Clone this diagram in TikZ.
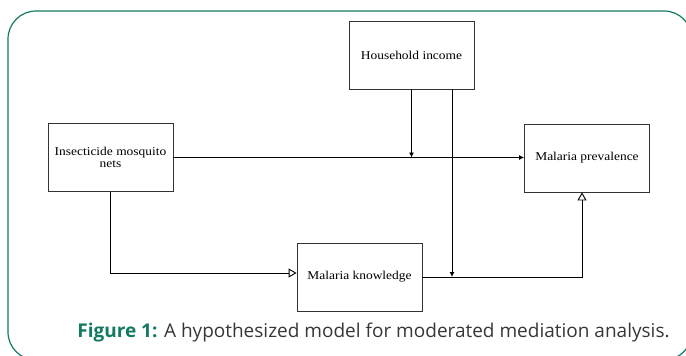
\documentclass[tikz,border=0pt]{standalone}
\usepackage{fontspec}
\setmainfont{Liberation Serif}[FakeStretch=1.12]
\newfontfamily\capfont{Open Sans}
\usetikzlibrary{arrows.meta}
\definecolor{frameteal}{RGB}{18,122,98}
\definecolor{capgray}{RGB}{55,55,55}

\begin{document}
\begin{tikzpicture}[x=1pt,y=1pt,node distance=100pt]
\tikzstyle{box} = [rectangle, minimum width=125pt, minimum height=68pt, align=center, draw=black!80, line width=0.8pt, font=\fontsize{12}{12}\selectfont]
\tikzstyle{caption} = [font=\capfont\fontsize{19}{21}\selectfont, text=capgray]
\tikzstyle{arrow} = [line width=0.9pt,-{Latex[length=5pt,width=5pt]}]
\tikzstyle{openarrow} = [line width=0.9pt,-{Triangle[open,length=8pt,width=9pt]}]

\useasboundingbox (0,0) rectangle (686,-356);
\draw[frameteal, line width=1.2pt, rounded corners=28pt] (8,-11) rectangle (692,-360);

%nodes
\node (nets) [box] at (110.5,-157.5) {Insecticide mosquito\\nets};
\node (income) [box, right of=nets, xshift=201pt, yshift=102.5pt] {Household income};
\node (prev) [box, right of=nets, xshift=376.5pt, yshift=-0.5pt] {Malaria prevalence};
\node (know) [box, right of=nets, xshift=149pt, yshift=-119.5pt] {Malaria knowledge};
\node (cap) [caption] at (373.5,-333) {\textcolor{frameteal}{\bfseries Figure 1:} A hypothesized model for moderated mediation analysis.};

%junctions on the paths
\coordinate (mod1) at (income.south |- nets.east);
\coordinate (mod2) at ([xshift=40.5pt]income.south |- know.east);

%lines
\draw [arrow] (nets.east) -- (nets.east -| prev.west);
\draw [arrow] (income) -- (mod1);
\draw [openarrow] (nets) |- ([yshift=4pt]know.west);
\draw [openarrow] (know.east) -| ([xshift=-5pt]prev.south);
\draw [arrow] ([xshift=40.5pt]income.south) -- (mod2);

\end{tikzpicture}
\end{document}
